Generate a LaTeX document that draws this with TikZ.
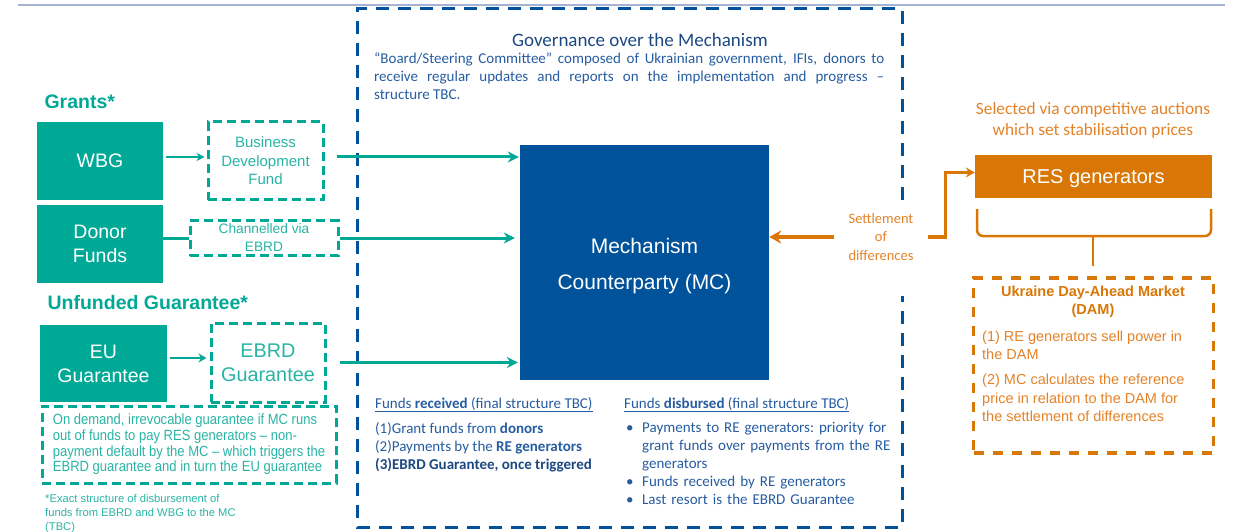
\documentclass[tikz,border=0pt]{standalone}
\usepackage{fontspec}
\setmainfont{Liberation Sans}
\newfontfamily\calfont{Carlito}
\newfontfamily\narrowfont[FakeStretch=0.88]{Liberation Sans}
\usetikzlibrary{arrows.meta}
\tikzset {>=Stealth}
\definecolor{mechteal}{RGB}{0,168,150}
\definecolor{lightteal}{RGB}{40,180,165}
\definecolor{mcblue}{RGB}{0,82,155}
\definecolor{govnavy}{RGB}{28,72,130}
\definecolor{govblue}{RGB}{38,92,160}
\definecolor{resorange}{RGB}{217,119,6}
\definecolor{orangetxt}{RGB}{228,130,40}
\definecolor{topline}{RGB}{165,178,208}
\newcommand*{\fundbullet}{\noindent\hangindent=16pt\hangafter=1\makebox[16pt][l]{\textbullet}}
\tikzset{
  grantbox/.style={fill=mechteal, text=white, align=center, inner sep=0pt,
    font=\fontsize{19.5}{24}\selectfont},
  grantdash/.style={draw=mechteal, line width=3pt, dash pattern=on 9pt off 5pt,
    text=lightteal, align=center, inner sep=0pt},
  tealflow/.style={draw=mechteal, line width=3pt, -{Stealth[length=11pt,width=11pt]}},
  orangeflow/.style={draw=resorange, line width=3.5pt},
  govdash/.style={draw=mcblue, line width=3pt, dash pattern=on 13pt off 9pt},
  plaintext/.style={inner sep=0pt, align=left, anchor=north west},
}

\begin{document}
\begin{tikzpicture}[x=1pt,y=-1pt]
\useasboundingbox (0,0) rectangle (1235,532);
\draw[topline, line width=1.5pt] (18,5) -- (1225,5);

% governance frame, open where the settlement label sits
\draw[govdash] (902,200) -- (902,9) -- (357,9) -- (357,527) -- (902,527) -- (902,296);
\node[text=govnavy, font=\calfont\fontsize{19}{22}\selectfont] (govtitle) at (640,40) {Governance over the Mechanism};
\node[plaintext, text=govblue, text width=510pt, align=justify, font=\calfont\fontsize{15}{18}\selectfont] (govtext) at (374,52)
  {“Board/Steering Committee” composed of Ukrainian government, IFIs, donors to\linebreak
   receive regular updates and reports on the implementation and progress –\linebreak
   structure TBC.};

% funding sources
\node[anchor=west, text=mechteal, font=\bfseries\fontsize{19.5}{24}\selectfont] (grants) at (41,102) {Grants*};
\node[grantbox, minimum width=126pt, minimum height=78pt] (wbg) at (100,161) {WBG};
\node[grantbox, minimum width=126pt, minimum height=78pt] (donor) at (100,244) {Donor\\Funds};
\node[anchor=west, text=mechteal, font=\bfseries\fontsize{19.5}{24}\selectfont] (unfunded) at (44,303) {Unfunded Guarantee*};
\node[grantbox, minimum width=127pt, minimum height=77pt] (eu) at (103.5,363.5) {EU\\Guarantee};

\node[grantdash, minimum width=115pt, minimum height=78pt, font=\fontsize{15}{18.5}\selectfont] (bdf) at (265.5,161) {Business\\Development\\Fund};
\node[grantdash, minimum width=148pt, minimum height=35pt, font=\fontsize{13.7}{18}\selectfont] (chan) at (264,238) {Channelled via\\EBRD};
\node[grantdash, minimum width=114pt, minimum height=79pt, font=\fontsize{19.8}{24}\selectfont] (ebrdg) at (268,362.5) {EBRD\\Guarantee};
\node[grantdash, minimum width=294pt, minimum height=77pt, align=left,
  font=\narrowfont\fontsize{14.8}{15.7}\selectfont] (ondemand) at (189,444.5)
  {On demand, irrevocable guarantee if MC runs\\out of funds to pay RES generators – non-\\payment default by the MC – which triggers the\\EBRD guarantee and in turn the EU guarantee};
\node[plaintext, text=lightteal, font=\fontsize{11.2}{14}\selectfont] (footnote) at (45,494.5)
  {*Exact structure of disbursement of\\funds from EBRD and WBG to the MC\\(TBC)};

% mechanism counterparty
\node[fill=mcblue, minimum width=249pt, minimum height=235pt, inner sep=0pt, text=white, align=center,
  font=\fontsize{21}{36}\selectfont] (mc) at (644.5,262.5) {\rule{0pt}{23pt}Mechanism\\Counterparty (MC)};

\draw[tealflow, line width=2pt, -{Stealth[length=8pt,width=8pt]}, shorten <=3pt, shorten >=2pt]
  ([yshift=4pt]wbg.east) -- ([yshift=4pt]wbg.east -| bdf.west);
\draw[tealflow, shorten <=12pt, shorten >=1pt] ([yshift=4pt]bdf.east) -- ([yshift=4pt]bdf.east -| mc.west);
\draw[draw=mechteal, line width=3pt] (donor.east |- chan.west) -- (chan.west);
\draw[tealflow, shorten >=5pt] (chan.east) -- (chan.east -| mc.west);
\draw[tealflow, line width=2.5pt, -{Stealth[length=8pt,width=9pt]}, shorten <=3pt, shorten >=3pt]
  ([yshift=5.5pt]eu.east) -- ([yshift=5.5pt]eu.east -| ebrdg.west);
\draw[tealflow, shorten <=13pt, shorten >=2pt] (ebrdg.east) -- (ebrdg.east -| mc.west);

% funds received and disbursed
\node[plaintext, text=govblue, font=\calfont\fontsize{15}{18}\selectfont] (received) at (375,397)
  {\underline{Funds \textbf{received} (final structure TBC)}};
\node[plaintext, text=govblue, font=\calfont\fontsize{15}{18}\selectfont] (receivedlist) at (375,422)
  {(1)Grant funds from \textbf{donors}\\(2)Payments by the \textbf{RE generators}\\\textcolor{govnavy}{\textbf{(3)EBRD Guarantee, once triggered}}};
\node[plaintext, text=govblue, font=\calfont\fontsize{15}{18}\selectfont] (disbursed) at (624,397)
  {\underline{Funds \textbf{disbursed} (final structure TBC)}};
\node[plaintext, text=govblue, text width=300pt, font=\calfont\fontsize{15}{18}\selectfont\frenchspacing] (disbursedlist) at (626,422)
  {\fundbullet Payments to RE generators: priority for\hfil\break grant funds over payments from the RE\hfil\break generators\par
   \fundbullet Funds received by RE generators\par
   \fundbullet Last resort is the EBRD Guarantee\par};

% generators side
\node[text=orangetxt, align=center, inner xsep=14pt, inner ysep=4pt, font=\calfont\fontsize{14.5}{18.5}\selectfont] (settle) at (881,237)
  {Settlement\\of\\differences};
\node[text=orangetxt, align=center, font=\calfont\fontsize{17.3}{21}\selectfont] (selected) at (1093,120)
  {Selected via competitive auctions\\which set stabilisation prices};
\node[fill=resorange, minimum width=237pt, minimum height=43pt, inner sep=0pt, text=white,
  font=\fontsize{20}{24}\selectfont] (res) at (1093.5,176.5) {\rule{0pt}{19pt}RES generators};

\draw[orangeflow, -{Stealth[length=12pt,width=13pt]}] (settle.west) -- (settle.west -| mc.east);
\draw[orangeflow, -{Stealth[length=9pt,width=10pt]}] (settle.east) -- ++(18,0) |- ([yshift=4pt]res.west);

\draw[draw=resorange, line width=2.5pt, rounded corners=6pt]
  (977,209) -- (977,236) -- (1211,236) -- (1211,209);
\draw[draw=resorange, line width=2.5pt] (1093,236) -- (1093,266);

\node[draw=resorange, line width=3.5pt, dash pattern=on 10pt off 9pt, minimum width=240pt, minimum height=175pt] (dam) at (1093.5,365.5) {};
\node[text=resorange, align=center, inner sep=0pt, font=\bfseries\fontsize{14.5}{18}\selectfont] (damtitle) at (1093,302)
  {Ukraine Day-Ahead Market\\(DAM)};
\node[plaintext, text=orangetxt, font=\fontsize{14.5}{17.5}\selectfont] (damsell) at (982,331)
  {(1) RE generators sell power in\\the DAM};
\node[plaintext, text=orangetxt, font=\fontsize{14.5}{18.5}\selectfont] (damprice) at (982,374)
  {(2) MC calculates the reference\\price in relation to the DAM for\\the settlement of differences};
\end{tikzpicture}
\end{document}
